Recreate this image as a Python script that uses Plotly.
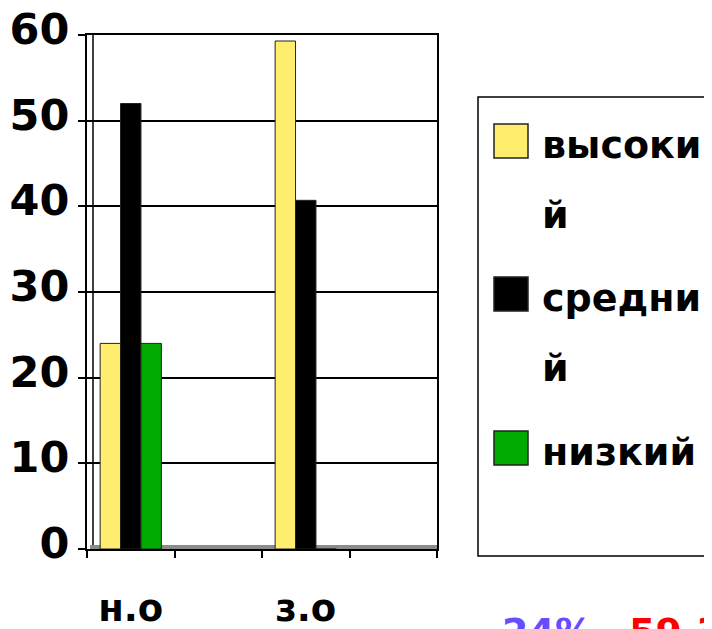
import plotly.graph_objects as go

# ---- data ----
categories = ["н.о", " ", "з.о", "  "]
series_names = ["высокий", "средний", "низкий"]
vysokiy = [24, None, 59.3, None]
sredniy = [52, None, 40.7, None]
nizkiy = [24, None, 0, None]
series_values = [vysokiy, sredniy, nizkiy]
series_colors = ["#FFEE6E", "#000000", "#00AA00"]
y_ticks = [0, 10, 20, 30, 40, 50, 60]
note_texts = ["24%", "59.3%"]
note_colors = ["#6A4CFF", "#FF0000"]

OFF = 8  # page body margin
W, H = 712, 629
L, R, T, B = 87 - OFF, 275 + OFF, 35 - OFF, 80 + OFF
PW, PH = W - L - R, H - T - B

def px2x(px):
    return (px - OFF - L) / PW

def py2y(py):
    return (H - B - (py - OFF)) / PH

FONT = "DejaVu Sans"

fig = go.Figure()
for name, vals, col in zip(series_names, series_values, series_colors):
    fig.add_trace(go.Bar(
        x=categories, y=vals, name=name,
        marker=dict(color=col, line=dict(color="#222222", width=1)),
        showlegend=False,
    ))

fig.update_layout(
    width=W, height=H,
    margin=dict(l=L, r=R, t=T, b=B, pad=0, autoexpand=False),
    paper_bgcolor="white", plot_bgcolor="white",
    barmode="group", bargap=0.3, bargroupgap=0,
    font=dict(family=FONT, color="black"),
    xaxis=dict(
        type="category", categoryorder="array", categoryarray=categories,
        tickson="boundaries", ticks="outside", ticklen=7, tickwidth=2, tickcolor="black",
        showline=True, linecolor="black", linewidth=2, mirror=True,
        showgrid=False, automargin=False,
        tickfont=dict(size=37, family=FONT, weight="bold"),
        ticklabelstandoff=26,
    ),
    yaxis=dict(
        range=[0, 60], tickvals=y_ticks,
        ticks="outside", ticklen=7, tickwidth=2, tickcolor="black",
        showline=True, linecolor="black", linewidth=2, mirror=True,
        showgrid=True, gridcolor="black", gridwidth=2,
        zeroline=False, automargin=False,
        tickfont=dict(size=43, family=FONT, weight="bold"),
        ticklabelstandoff=0, ticklabelshift=-6, ticklabeloverflow="allow",
    ),
)

# back-wall line and floor strip (pseudo-3D look)
fig.add_shape(type="line", xref="paper", yref="paper",
              x0=px2x(93), x1=px2x(93), y0=py2y(546), y1=1,
              line=dict(color="black", width=1.5), layer="below")
fig.add_shape(type="rect", xref="paper", yref="paper",
              x0=px2x(90), x1=1, y0=0, y1=py2y(545),
              fillcolor="#8C8C8C", line=dict(width=0), layer="below")

# legend box
fig.add_shape(type="rect", xref="paper", yref="paper",
              x0=px2x(478), x1=px2x(716), y0=py2y(556), y1=py2y(97),
              line=dict(color="black", width=1.5), fillcolor="rgba(0,0,0,0)")

item_tops = [124, 277, 431]
for i, (name, col) in enumerate(zip(series_names, series_colors)):
    top = item_tops[i]
    fig.add_shape(type="rect", xref="paper", yref="paper",
                  x0=px2x(494), x1=px2x(528), y0=py2y(top + 34), y1=py2y(top),
                  fillcolor=col, line=dict(color="#222222", width=1.5))
    lines = [name[k:k + 6] for k in range(0, len(name), 6)]
    for j, ln in enumerate(lines):
        fig.add_annotation(xref="paper", yref="paper",
                           x=px2x(540), y=py2y(top + 21 + 70 * j),
                           xanchor="left", yanchor="middle", showarrow=False,
                           text=ln, font=dict(size=38, family=FONT, weight="bold", color="black"))

# bottom notes (partly outside view, as in the reference)
note_x = [500, 627]
for t, c, xx in zip(note_texts, note_colors, note_x):
    fig.add_annotation(xref="paper", yref="paper",
                       x=px2x(xx), y=py2y(608), xanchor="left", yanchor="top",
                       showarrow=False, text=t,
                       font=dict(size=38, family=FONT, weight="bold", color=c))

fig.write_html("out.html")
